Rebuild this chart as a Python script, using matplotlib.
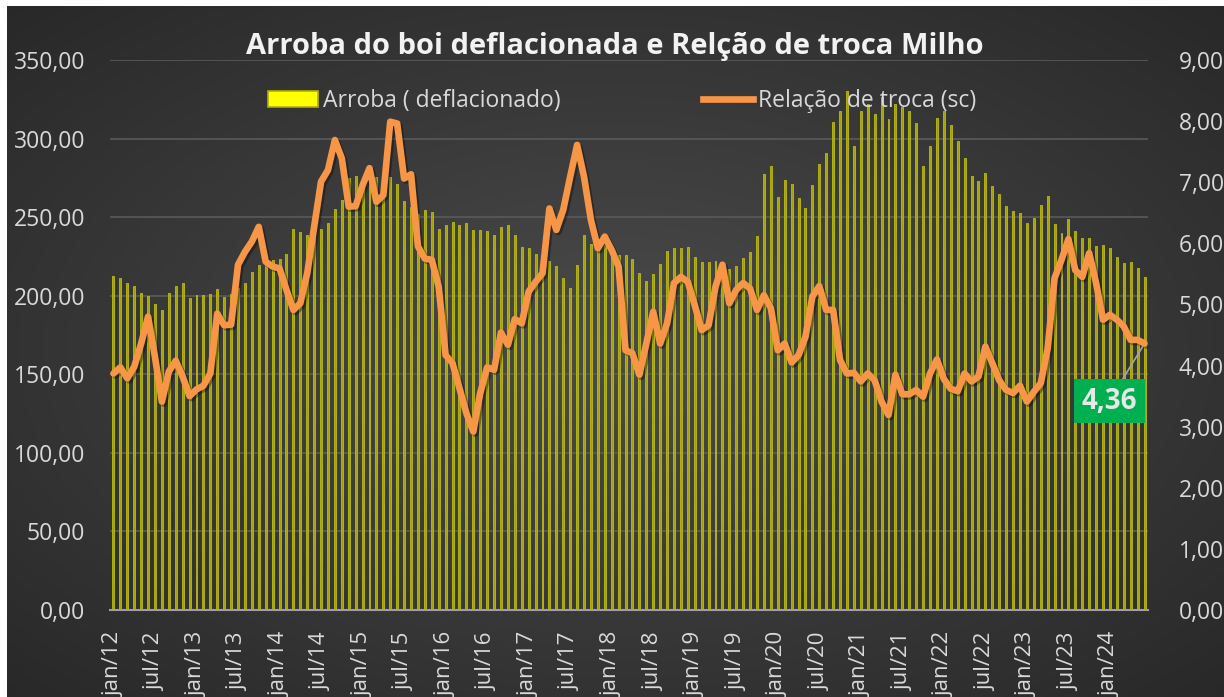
import numpy as np
import matplotlib.pyplot as plt
from matplotlib.patches import Patch
from matplotlib.lines import Line2D
from matplotlib.ticker import FuncFormatter
import matplotlib.patheffects as pe

plt.rcParams['font.family'] = ['Open Sans', 'DejaVu Sans']

# Arroba do boi deflacionada (R$), mensal jan/12 .. jun/24
arroba = [
    212.5, 211.4, 208.1, 206.2, 201.6, 199.9, 194.9, 191.0, 201.9, 206.3, 208.4, 198.4,  # 2012
    200.3, 200.4, 200.8, 204.5, 199.4, 201.0, 205.0, 208.1, 214.8, 219.5, 220.0, 223.0,  # 2013
    223.1, 226.5, 242.5, 240.4, 238.5, 242.1, 242.4, 246.0, 255.0, 261.2, 275.0, 276.0,  # 2014
    270.0, 282.0, 275.5, 273.4, 275.5, 270.9, 260.3, 256.5, 252.0, 254.4, 253.2, 242.6,  # 2015
    244.7, 247.2, 244.7, 246.0, 241.8, 241.8, 240.9, 238.8, 244.0, 244.7, 238.7, 230.7,  # 2016
    230.4, 226.5, 221.7, 221.9, 218.6, 211.3, 204.7, 219.8, 238.4, 232.7, 231.0, 232.0,  # 2017
    227.0, 226.0, 225.7, 223.2, 214.3, 209.3, 214.0, 220.4, 228.2, 230.5, 230.6, 230.9,  # 2018
    224.9, 221.7, 221.5, 222.2, 221.0, 216.8, 218.8, 223.7, 228.0, 238.0, 277.4, 282.3,  # 2019
    262.9, 273.4, 270.9, 262.4, 256.1, 270.7, 284.0, 291.1, 310.3, 317.3, 330.4, 295.1,  # 2020
    317.7, 321.9, 315.6, 326.2, 312.4, 321.9, 319.8, 317.3, 310.1, 282.5, 295.1, 313.1,  # 2021
    317.7, 308.7, 298.7, 287.8, 275.9, 273.0, 278.1, 270.0, 265.0, 257.4, 254.0, 252.7,  # 2022
    246.0, 249.2, 257.6, 263.5, 245.4, 239.7, 249.0, 241.0, 237.0, 236.5, 231.9, 232.3,  # 2023
    230.6, 224.9, 220.7, 221.2, 217.5, 212.2,  # 2024
]

# Relação de troca (sacas de milho por arroba)
relacao = [
    3.87, 3.97, 3.79, 3.98, 4.36, 4.80, 4.14, 3.41, 3.90, 4.08, 3.82, 3.50,
    3.61, 3.67, 3.87, 4.85, 4.66, 4.67, 5.65, 5.86, 6.03, 6.27, 5.70, 5.62,
    5.59, 5.24, 4.91, 5.02, 5.51, 6.27, 7.01, 7.20, 7.69, 7.39, 6.60, 6.61,
    6.95, 7.23, 6.68, 6.79, 7.99, 7.96, 7.06, 7.13, 5.95, 5.75, 5.73, 5.29,
    4.17, 4.04, 3.63, 3.22, 2.92, 3.55, 3.97, 3.93, 4.54, 4.34, 4.76, 4.69,
    5.21, 5.37, 5.51, 6.57, 6.22, 6.55, 7.09, 7.61, 7.09, 6.38, 5.92, 6.11,
    5.89, 5.62, 4.25, 4.20, 3.85, 4.36, 4.88, 4.36, 4.69, 5.35, 5.45, 5.37,
    4.99, 4.58, 4.66, 5.29, 5.65, 5.02, 5.24, 5.35, 5.26, 4.91, 5.15, 4.94,
    4.25, 4.36, 4.05, 4.17, 4.47, 5.13, 5.30, 4.91, 4.91, 4.09, 3.87, 3.88,
    3.74, 3.87, 3.76, 3.41, 3.19, 3.85, 3.53, 3.53, 3.60, 3.49, 3.87, 4.10,
    3.78, 3.62, 3.58, 3.87, 3.74, 3.82, 4.31, 4.04, 3.76, 3.60, 3.55, 3.67,
    3.41, 3.57, 3.71, 4.28, 5.43, 5.73, 6.07, 5.56, 5.45, 5.84, 5.35, 4.75,
    4.83, 4.75, 4.64, 4.42, 4.42, 4.36,
]

tick_labels = ["jan/12", "jul/12", "jan/13", "jul/13", "jan/14", "jul/14", "jan/15", "jul/15",
               "jan/16", "jul/16", "jan/17", "jul/17", "jan/18", "jul/18", "jan/19", "jul/19",
               "jan/20", "jul/20", "jan/21", "jul/21", "jan/22", "jul/22", "jan/23", "jul/23",
               "jan/24"]

txt = '#d9d9d9'
fmt = FuncFormatter(lambda v, p: f"{v:.2f}".replace('.', ','))

fig = plt.figure(figsize=(12.24, 6.97), dpi=100, facecolor='white')

# fundo escuro com gradiente radial
bg = fig.add_axes([7 / 1224, 0, 1 - 7 / 1224, 1 - 6 / 697])
yy, xx = np.mgrid[0:1:300j, 0:1:520j]
r = np.sqrt(((xx - 0.5) / 0.75) ** 2 + ((yy - 0.5) / 0.75) ** 2)
g = np.clip(0.295 - 0.145 * r, 0, 1)
bg.imshow(np.dstack([g, g, g]), aspect='auto', extent=[0, 1, 0, 1])
bg.axis('off')

ax = fig.add_axes([110 / 1224, 87 / 697, 1038 / 1224, 550 / 697])
ax.patch.set_alpha(0)
x = np.arange(len(arroba))
ax.bar(x, arroba, width=0.28, color='#a2a200', edgecolor='#cccc10', linewidth=0.5, zorder=2)
ax.set_xlim(-0.5, len(arroba) - 0.5)
ax.set_ylim(0, 350)
ax.set_yticks(np.arange(0, 351, 50))
ax.yaxis.set_major_formatter(fmt)
ax.grid(axis='y', color='#5a5a5a', linewidth=1.2, zorder=0)
ax.set_axisbelow(True)
for s in ['top', 'right', 'left']:
    ax.spines[s].set_visible(False)
ax.spines['bottom'].set_color('#a0a0a0')
ax.spines['bottom'].set_linewidth(1.5)
ax.set_xticks(np.arange(0, len(arroba), 6)[:len(tick_labels)])
ax.set_xticklabels(tick_labels, rotation=90)
ax.tick_params(axis='x', length=0, pad=16, labelsize=16, labelcolor=txt)
ax.tick_params(axis='y', length=0, pad=18, labelsize=16.5, labelcolor=txt)

ax2 = ax.twinx()
ax2.plot(x, relacao, color='#f79646', linewidth=4.8, solid_joinstyle='round',
         solid_capstyle='round', zorder=3,
         path_effects=[pe.SimpleLineShadow(offset=(1.5, -1.5), shadow_color='black', alpha=0.35),
                       pe.Normal()])
ax2.set_ylim(0, 9)
ax2.set_yticks(np.arange(0, 9.01, 1))
ax2.yaxis.set_major_formatter(fmt)
for s in ax2.spines.values():
    s.set_visible(False)
ax2.tick_params(axis='y', length=0, pad=22, labelsize=16.5, labelcolor=txt)

last = relacao[-1]
ax2.annotate(f"{last:.2f}".replace('.', ','), xy=(x[-1], last), xytext=(143.9, 3.42),
             ha='center', va='center', fontsize=20, fontweight='bold', color='#e8e8e8',
             bbox=dict(boxstyle='square,pad=0.28', fc='#00b050', ec='none'),
             arrowprops=dict(arrowstyle='-', color='#a6a6a6', lw=1.2, shrinkA=0, shrinkB=2),
             zorder=5)

fig.text(0.502, 0.9326, "Arroba do boi deflacionada e Relção de troca Milho",
         ha='center', va='center', fontsize=21, fontweight='bold', color='#f2f2f2')

handles = [Patch(facecolor='#ffff00', edgecolor='#b0b000', linewidth=1.2),
           Line2D([], [], color='#f79646', linewidth=4.8)]
fig.legend(handles, ["Arroba ( deflacionado)", "Relação de troca (sc)"],
           loc='center', bbox_to_anchor=(0.508, 0.855), ncol=2, frameon=False,
           fontsize=16.5, labelcolor=txt, handlelength=2.2, handleheight=0.7,
           handletextpad=0.2, columnspacing=6.2)

fig.savefig('out.png', dpi=100, facecolor=fig.get_facecolor())
